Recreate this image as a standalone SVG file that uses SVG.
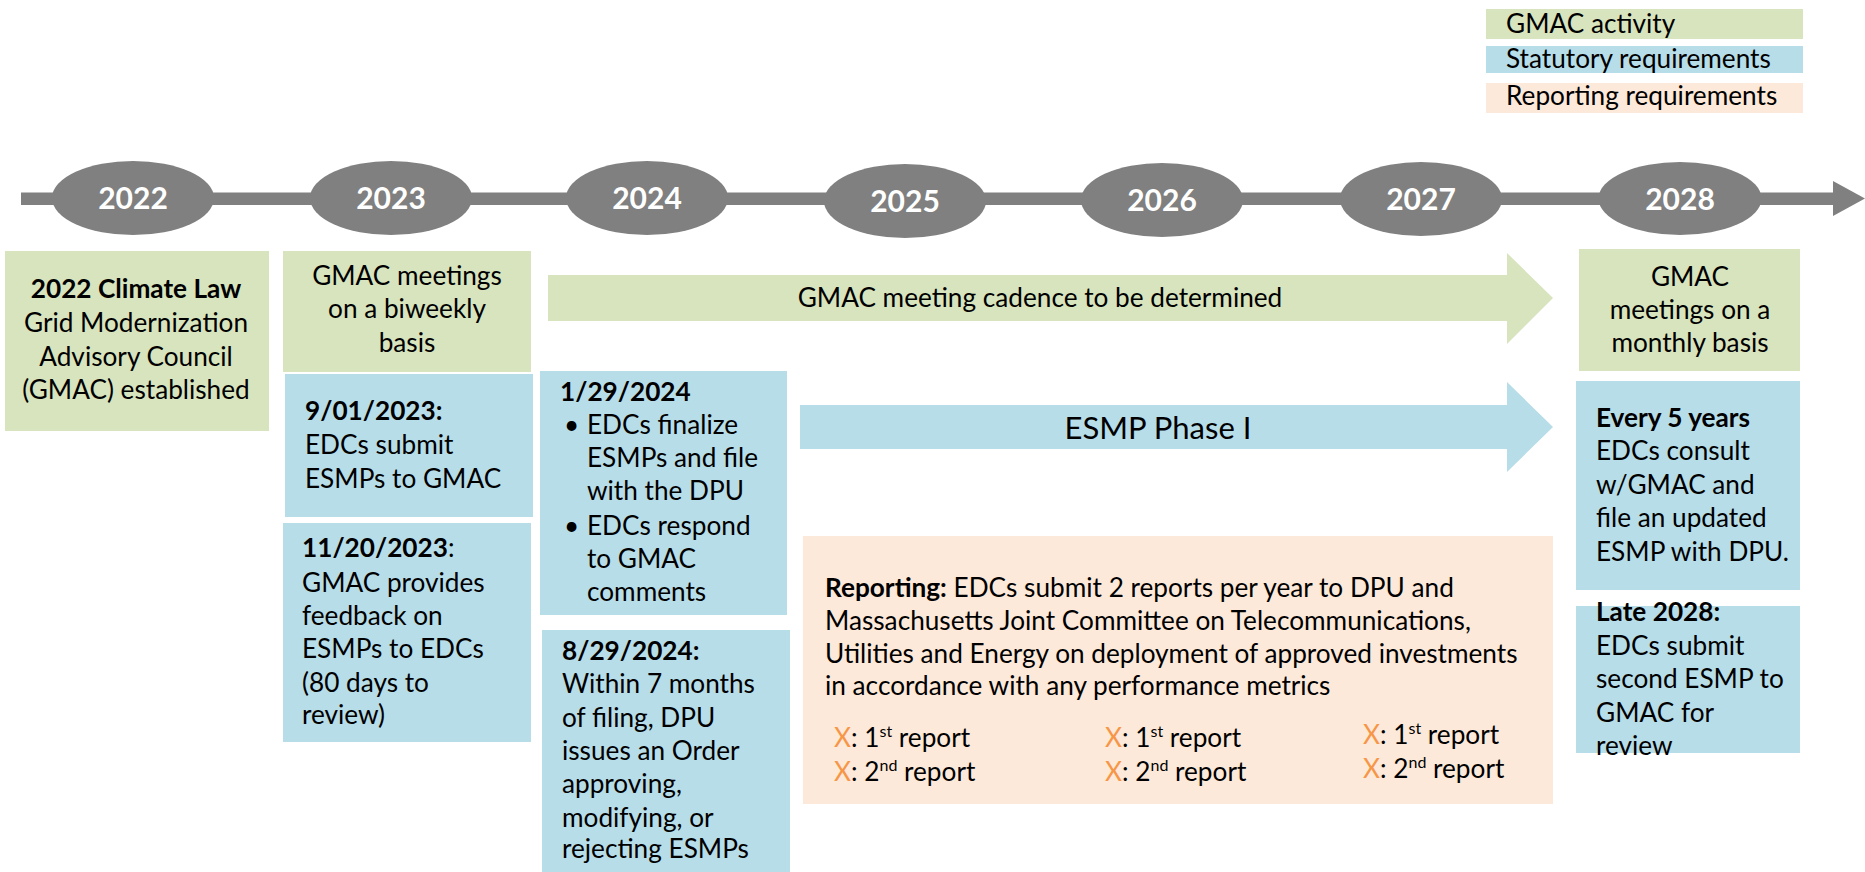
<svg xmlns="http://www.w3.org/2000/svg" width="1865" height="872" viewBox="0 0 1865 872">
<style>
text{font-family:Lato,"Liberation Sans",sans-serif;fill:#000;font-size:26.2px}
.g{fill:#D7E4BD}.b{fill:#B7DDE8}.p{fill:#FDE9D9}
.yr{fill:#808080}
.yt{font-size:30px;font-weight:bold;fill:#fff;text-anchor:middle}
.c{text-anchor:middle}
.bd{font-weight:bold}
.x{fill:#F79646}
.sup{font-size:16px}
</style>
<rect width="1865" height="872" fill="#fff"/>

<g id="legend">
<rect class="g" x="1486" y="9" width="317" height="30"/>
<rect class="b" x="1486" y="46" width="317" height="27"/>
<rect class="p" x="1486" y="83" width="317" height="30"/>
<text x="1506" y="33">GMAC activity</text>
<text x="1506" y="68">Statutory requirements</text>
<text x="1506" y="105">Reporting requirements</text>
</g>

<g id="connectors">
<rect x="21" y="192.5" width="1814" height="12.5" fill="#808080"/>
<polygon points="1833,181 1865,198.5 1833,216" fill="#808080"/>
</g>

<g id="y2022"><ellipse class="yr" cx="133" cy="198" rx="81" ry="37"/><text class="yt" x="133" y="209">2022</text></g>
<g id="y2023"><ellipse class="yr" cx="391" cy="198" rx="81" ry="37"/><text class="yt" x="391" y="209">2023</text></g>
<g id="y2024"><ellipse class="yr" cx="647" cy="198" rx="81" ry="37"/><text class="yt" x="647" y="209">2024</text></g>
<g id="y2025"><ellipse class="yr" cx="905" cy="201" rx="81" ry="37"/><text class="yt" x="905" y="212">2025</text></g>
<g id="y2026"><ellipse class="yr" cx="1162" cy="200" rx="81" ry="37"/><text class="yt" x="1162" y="211">2026</text></g>
<g id="y2027"><ellipse class="yr" cx="1421" cy="199" rx="81" ry="37"/><text class="yt" x="1421" y="210">2027</text></g>
<g id="y2028"><ellipse class="yr" cx="1680" cy="198.5" rx="81.5" ry="36.5"/><text class="yt" x="1680" y="210">2028</text></g>

<g id="climate-law">
<rect class="g" x="5" y="251" width="264" height="180"/>
<text class="c" x="136" y="298"><tspan class="bd">2022 Climate Law</tspan></text>
<text class="c" x="136" y="332">Grid Modernization</text>
<text class="c" x="136" y="366">Advisory Council</text>
<text class="c" x="136" y="399">(GMAC) established</text>
</g>

<g id="gmac-biweekly">
<rect class="g" x="283" y="251" width="248" height="121"/>
<text class="c" x="407" y="285">GMAC meetings</text>
<text class="c" x="407" y="318">on a biweekly</text>
<text class="c" x="407" y="352">basis</text>
</g>

<g id="esmp-submit">
<rect class="b" x="285" y="374" width="248" height="143"/>
<text x="305" y="420" class="bd">9/01/2023:</text>
<text x="305" y="454">EDCs submit</text>
<text x="305" y="488">ESMPs to GMAC</text>
</g>

<g id="gmac-feedback">
<rect class="b" x="283" y="523" width="248" height="219"/>
<text x="302" y="557"><tspan class="bd">11/20/2023</tspan>:</text>
<text x="302" y="592">GMAC provides</text>
<text x="302" y="625">feedback on</text>
<text x="302" y="658">ESMPs to EDCs</text>
<text x="302" y="692">(80 days to</text>
<text x="302" y="724">review)</text>
</g>

<g id="esmp-finalize">
<rect class="b" x="540" y="371" width="247" height="244"/>
<text x="560" y="401" class="bd">1/29/2024</text>
<text x="564" y="434">•</text>
<text x="587" y="434">EDCs finalize</text>
<text x="587" y="467">ESMPs and file</text>
<text x="587" y="500">with the DPU</text>
<text x="564" y="535">•</text>
<text x="587" y="535">EDCs respond</text>
<text x="587" y="568">to GMAC</text>
<text x="587" y="601">comments</text>
</g>

<g id="dpu-order">
<rect class="b" x="542" y="630" width="248" height="242"/>
<text x="562" y="660" class="bd">8/29/2024:</text>
<text x="562" y="693">Within 7 months</text>
<text x="562" y="727">of filing, DPU</text>
<text x="562" y="760">issues an Order</text>
<text x="562" y="793">approving,</text>
<text x="562" y="827">modifying, or</text>
<text x="562" y="858">rejecting ESMPs</text>
</g>

<g id="gmac-cadence">
<polygon class="g" points="548,275 1507,275 1507,253 1553,298 1507,344 1507,321 548,321"/>
<text class="c" x="1040" y="307">GMAC meeting cadence to be determined</text>
</g>

<g id="esmp-phase1">
<polygon class="b" points="800,405 1507,405 1507,382 1553,427 1507,472 1507,449 800,449"/>
<text class="c" x="1158" y="439" style="font-size:31px">ESMP Phase I</text>
</g>

<g id="reporting">
<rect class="p" x="803" y="536" width="750" height="268"/>
<text x="825" y="597"><tspan class="bd">Reporting:</tspan> EDCs submit 2 reports per year to DPU and</text>
<text x="825" y="630">Massachusetts Joint Committee on Telecommunications,</text>
<text x="825" y="663">Utilities and Energy on deployment of approved investments</text>
<text x="825" y="695">in accordance with any performance metrics</text>
<text x="834" y="747"><tspan class="x">X</tspan>: 1<tspan class="sup" dy="-10">st</tspan><tspan dy="10"> report</tspan></text>
<text x="834" y="781"><tspan class="x">X</tspan>: 2<tspan class="sup" dy="-10">nd</tspan><tspan dy="10"> report</tspan></text>
<text x="1105" y="747"><tspan class="x">X</tspan>: 1<tspan class="sup" dy="-10">st</tspan><tspan dy="10"> report</tspan></text>
<text x="1105" y="781"><tspan class="x">X</tspan>: 2<tspan class="sup" dy="-10">nd</tspan><tspan dy="10"> report</tspan></text>
<text x="1363" y="744"><tspan class="x">X</tspan>: 1<tspan class="sup" dy="-10">st</tspan><tspan dy="10"> report</tspan></text>
<text x="1363" y="778"><tspan class="x">X</tspan>: 2<tspan class="sup" dy="-10">nd</tspan><tspan dy="10"> report</tspan></text>
</g>

<g id="gmac-monthly">
<rect class="g" x="1579" y="249" width="221" height="122"/>
<text class="c" x="1690" y="286">GMAC</text>
<text class="c" x="1690" y="319">meetings on a</text>
<text class="c" x="1690" y="352">monthly basis</text>
</g>

<g id="every-5-years">
<rect class="b" x="1576" y="381" width="224" height="209"/>
<text x="1596" y="427" class="bd">Every 5 years</text>
<text x="1596" y="460">EDCs consult</text>
<text x="1596" y="494">w/GMAC and</text>
<text x="1596" y="527">file an updated</text>
<text x="1596" y="561">ESMP with DPU.</text>
</g>

<g id="late-2028">
<rect class="b" x="1576" y="606" width="224" height="147"/>
<text x="1596" y="621" class="bd">Late 2028:</text>
<text x="1596" y="655">EDCs submit</text>
<text x="1596" y="688">second ESMP to</text>
<text x="1596" y="722">GMAC for</text>
<text x="1596" y="755">review</text>
</g>
</svg>
